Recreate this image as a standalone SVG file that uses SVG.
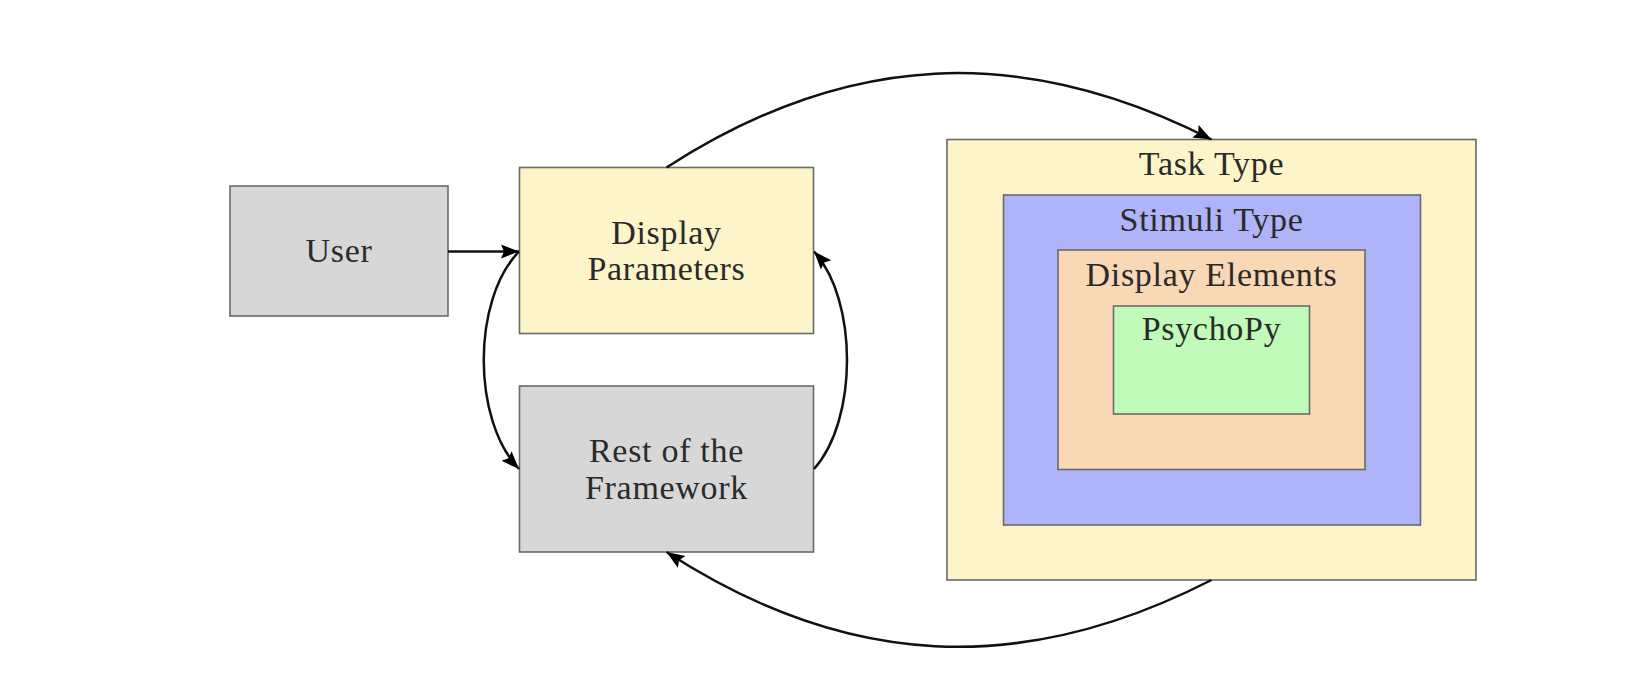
<svg xmlns="http://www.w3.org/2000/svg" width="1628" height="686" viewBox="0 0 1628 686">
<defs>
<marker id="ah" markerUnits="userSpaceOnUse" markerWidth="20" markerHeight="16" refX="18" refY="8" orient="auto">
<path d="M0,1 L18,8 L0,15 L3,8 z" fill="#000"/>
</marker>
</defs>
<style>
.box{stroke:#6a6a6a;stroke-width:1.6}
.t{font-family:"Liberation Serif","Times New Roman",serif;font-size:34px;letter-spacing:0.7px;fill:#2a2a2a;text-anchor:middle}
.c{fill:none;stroke:#111;stroke-width:2.5;marker-end:url(#ah)}
</style>
<rect width="1628" height="686" fill="#fff"/>
<g id="user">
<rect class="box" x="230" y="186" width="218" height="130" fill="#d7d7d7"/>
<text class="t" x="339" y="262">User</text>
</g>
<g id="display-parameters">
<rect class="box" x="519.5" y="167.5" width="294" height="166" fill="#fdf4c9"/>
<text class="t" x="666.5" y="244">Display</text>
<text class="t" x="666.5" y="280">Parameters</text>
</g>
<g id="rest-of-framework">
<rect class="box" x="519.5" y="386" width="294" height="166" fill="#d7d7d7"/>
<text class="t" x="666.5" y="462">Rest of the</text>
<text class="t" x="666.5" y="499">Framework</text>
</g>
<g id="task-type">
<rect class="box" x="947" y="139.5" width="529" height="440.5" fill="#fdf4c9"/>
<text class="t" x="1211.5" y="175">Task Type</text>
</g>
<g id="stimuli-type">
<rect class="box" x="1003.5" y="195" width="417" height="330" fill="#afb3f7"/>
<text class="t" x="1211.5" y="231">Stimuli Type</text>
</g>
<g id="display-elements">
<rect class="box" x="1058" y="250" width="307" height="219.5" fill="#f9d8b6"/>
<text class="t" x="1211.5" y="286">Display Elements</text>
</g>
<g id="psychopy">
<rect class="box" x="1113.5" y="306" width="196" height="108" fill="#c1fbb9"/>
<text class="t" x="1211.5" y="340">PsychoPy</text>
</g>
<g id="connectors">
<path class="c" d="M448,251.5 L519,251.5"/>
<path class="c" d="M519,251.5 C472,300 472,420 519,469"/>
<path class="c" d="M814,469 C858,420 858,300 814,251.5"/>
<path class="c" d="M666.5,167.5 C845.7,51.7 1021.2,42.5 1211.5,139.5"/>
<path class="c" d="M1211.5,580 C1021.2,677.5 845.7,668.3 666.5,552"/>
</g>
</svg>
